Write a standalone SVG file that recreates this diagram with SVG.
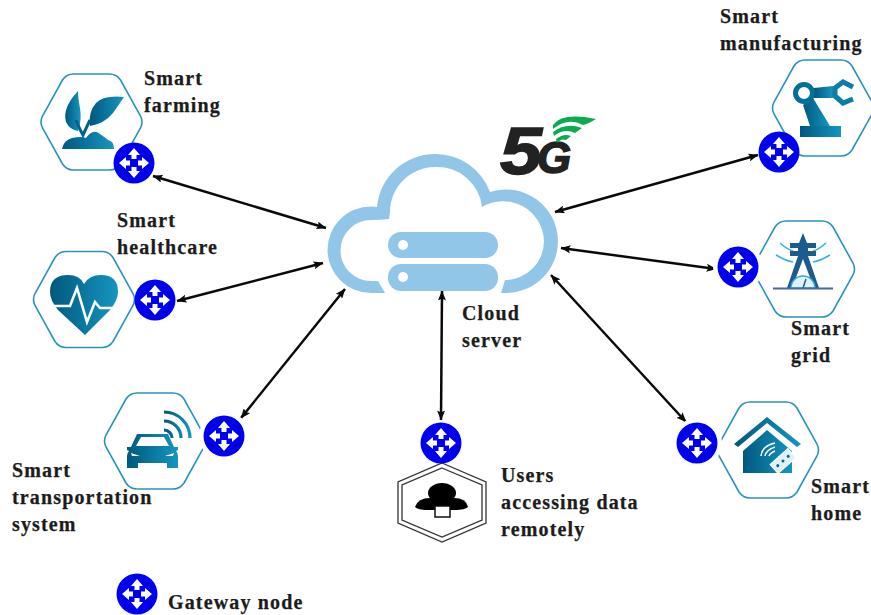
<svg xmlns="http://www.w3.org/2000/svg" xmlns:xlink="http://www.w3.org/1999/xlink" width="871" height="615" viewBox="0 0 871 615">
<style>
text{font-family:"Liberation Serif","Times New Roman",serif;font-weight:700;font-size:20px;letter-spacing:1.15px;fill:#1c1c1c;stroke:#1c1c1c;stroke-width:.25px}
.hex{fill:#fff;stroke:#2b93bb;stroke-width:1.6}
.link{stroke:#0a0a0a;stroke-width:2.5;fill:none;marker-start:url(#ah);marker-end:url(#ah)}
.ic{fill:url(#g)}
.wave{fill:none;stroke:url(#g);stroke-width:3.2}
.cloud{fill:#92c6e9}
.logo{font-family:"Liberation Sans",Arial,sans-serif;font-style:italic;letter-spacing:0;fill:#222;stroke:#222;stroke-width:1.4px}
</style>
<defs>
<linearGradient id="g" x1="0" y1="0" x2="1" y2="0"><stop offset="0" stop-color="#00587f"/><stop offset="1" stop-color="#1596bf"/></linearGradient>
<marker id="ah" viewBox="0 0 10 8" refX="9.5" refY="4" markerWidth="10" markerHeight="8" markerUnits="userSpaceOnUse" orient="auto-start-reverse"><path d="M0 0L10 4L0 8L2 4Z" fill="#0a0a0a"/></marker>
<path id="hx" class="hex" d="M-49 -6Q-52 0 -49 6L-29 42Q-25 48 -18 48H18Q25 48 29 42L49 6Q52 0 49 -6L29 -42Q25 -48 18 -48H-18Q-25 -48 -29 -42Z"/>
<g id="gw">
<circle r="20.5" fill="#0000ee"/>
<g fill="#fff">
<path d="M0 -15L6 -8H2.5V-4H-2.5V-8H-6Z"/>
<path d="M0 -15L6 -8H2.5V-4H-2.5V-8H-6Z" transform="rotate(90)"/>
<path d="M0 -15L6 -8H2.5V-4H-2.5V-8H-6Z" transform="rotate(180)"/>
<path d="M0 -15L6 -8H2.5V-4H-2.5V-8H-6Z" transform="rotate(270)"/>
</g>
</g>
</defs>
<rect width="871" height="615" fill="#fff"/>

<g id="connectors">
<path class="link" d="M153 176L326 228"/>
<path class="link" d="M177 301L323 263"/>
<path class="link" d="M241 418L345 289"/>
<path class="link" d="M441 420L442 291"/>
<path class="link" d="M686 422L551 275"/>
<path class="link" d="M716 269L561 248"/>
<path class="link" d="M758 155L555 212"/>
</g>

<g id="cloud-server">
<path class="cloud" fill-rule="evenodd" d="M385 293H371A43.5 43.5 0 0 1 327.5 250A43.5 43.5 0 0 1 371 206.500L377 207A58 58 0 0 1 435 154A58 58 0 0 1 490 192A52 52 0 0 1 558 241A52 52 0 0 1 506 293H501L505 280A39 39 0 0 0 544 241A41 41 0 0 0 482 207A45 45 0 0 0 435 167A45 45 0 0 0 390 212L389 219Q380 220 371 220A30.500 30.500 0 0 0 340.500 250.500A30.500 30.500 0 0 0 371 281H378Z"/>
<rect class="cloud" x="388" y="232" width="110" height="26" rx="13"/>
<rect class="cloud" x="388" y="264" width="110" height="27" rx="13"/>
<circle cx="403" cy="245" r="5" fill="#fff"/>
<circle cx="403" cy="277" r="5" fill="#fff"/>
<text x="462" y="320">Cloud</text>
<text x="462" y="347">server</text>
</g>

<g id="logo-5g">
<text class="logo" x="500" y="174" font-size="66" style="font-size:66px" textLength="42" lengthAdjust="spacingAndGlyphs">5</text>
<text class="logo" x="537" y="173" style="font-size:44px">G</text>
<path fill="#0dab4f" d="M553 125Q562 112 596 119Q588 124 583 125Q568 117 553 129ZM553 132Q566 122 582 128L575 133Q564 128 554 136ZM556 139Q564 133 571 136L566 140Q561 138 557 143Z"/>
</g>

<g id="node-farming">
<use xlink:href="#hx" href="#hx" x="91.500" y="122"/>
<path class="ic" d="M62 149Q64 140 72 138Q82 136 86 138Q93 128 100 134Q106 138 108 140Q114 141 114 149Z"/>
<path class="ic" d="M78 91Q62 108 66 122Q70 130 78 131Q82 120 80 108Q78 98 78 91Z"/>
<path class="ic" d="M124 97Q104 95 96 103Q88 112 90 126Q104 124 113 113Q120 103 124 97Z"/>
<path fill="none" stroke="#00638c" stroke-width="3" d="M76 120Q80 130 83 135L90 120"/>
<text x="144" y="85">Smart</text>
<text x="144" y="112">farming</text>
<use xlink:href="#gw" href="#gw" x="134" y="163"/>
</g>

<g id="node-healthcare">
<use xlink:href="#hx" href="#hx" x="84" y="299.500"/>
<path class="ic" d="M85 335L58 310Q50 300 50 292Q50 275 68 275Q80 275 84 284Q89 275 101 275Q118 275 118 292Q118 300 110 310Z"/>
<path fill="none" stroke="#fff" stroke-width="2.600" d="M50 306H70L77 288L87 322L95 302L100 308H118"/>
<text x="117" y="227">Smart</text>
<text x="117" y="254">healthcare</text>
<use xlink:href="#gw" href="#gw" x="155" y="300"/>
</g>

<g id="node-transportation">
<use xlink:href="#hx" href="#hx" x="155" y="441"/>
<path class="ic" d="M137 434H168L174 447H178V450L176 451Q178 453 178 456V468H167V463H138V468H127V456Q127 453 129 451L127 450V447H131Z"/>
<path fill="#fff" d="M141 437H164L169 446H136ZM131 453L140 456H132ZM174 453L165 456H173Z"/>
<path class="wave" d="M164 430A8 8 0 0 1 172 438M164 421A17 17 0 0 1 181 438M164 412A26 26 0 0 1 190 438"/>
<text x="12" y="477">Smart</text>
<text x="12" y="504">transportation</text>
<text x="12" y="531">system</text>
<circle cx="224" cy="436" r="25" fill="#fff"/>
<use xlink:href="#gw" href="#gw" x="224" y="436"/>
</g>

<g id="node-manufacturing">
<use xlink:href="#hx" href="#hx" x="823" y="108"/>
<path class="ic" d="M800 126H841V137H800Z"/>
<path class="ic" d="M803 105L813 98L830 126H810Z"/>
<path class="ic" d="M814 88L833 86V98H814Z"/>
<circle cx="804" cy="93" r="8.500" fill="#fff" stroke="#00709b" stroke-width="5"/>
<path fill="none" stroke="#0a7ea8" stroke-width="5" d="M853 87L843 82L835 88V96L843 103L853 99"/>
<text x="720" y="23">Smart</text>
<text x="720" y="50">manufacturing</text>
<use xlink:href="#gw" href="#gw" x="779" y="152"/>
</g>

<g id="node-grid">
<use xlink:href="#hx" href="#hx" x="804" y="269"/>
<path fill="none" stroke="#35b0dc" stroke-width="1.600" d="M780 243Q788 250 793 251M826 243Q818 250 813 251M776 255Q786 261 793 262M830 255Q820 261 813 262"/>
<path fill="#1d5a8e" d="M803 233L807 243H816V248L808 248V251H816V256L808 256L819 288H814L803 259L792 288H787L798 256L790 256V251H798V248L790 248V243H799Z"/>
<path fill="#dff2fb" stroke="#35a7d4" stroke-width="1.500" d="M791 288A12 12 0 0 1 815 288Z"/>
<path stroke="#1d5a8e" stroke-width="1.500" d="M803 288L806 279"/>
<path stroke="#46689b" stroke-width="2" d="M773 288.500H833"/>
<text x="791" y="335">Smart</text>
<text x="791" y="362">grid</text>
<circle cx="738" cy="267" r="25" fill="#fff"/>
<use xlink:href="#gw" href="#gw" x="738" y="267"/>
</g>

<g id="node-home">
<use xlink:href="#hx" href="#hx" x="768" y="450"/>
<path class="ic" d="M767 417L801 444L797 447L767 423L738 447L734 444Z"/>
<path class="ic" d="M767 430L792 451V473H743V451Z"/>
<g transform="translate(783 461) rotate(-42)">
<rect x="-12" y="-6" width="24" height="12" fill="#dff0f6" stroke="#fff" stroke-width="1"/>
<circle cx="-7" r="1.500" fill="#00638c"/><circle r="1.500" fill="#00638c"/><circle cx="7" r="1.500" fill="#00638c"/>
</g>
<path fill="none" stroke="#fff" stroke-width="1.600" d="M761 456Q762 446 775 443M765 456Q766 450 775 447M769 456Q770 453 775 451"/>
<text x="811" y="493">Smart</text>
<text x="811" y="520">home</text>
<circle cx="697" cy="443" r="25" fill="#fff"/>
<use xlink:href="#gw" href="#gw" x="697" y="443"/>
</g>

<g id="node-users">
<path fill="none" stroke="#333" stroke-width="1.300" d="M442 463L486 482V523L442 542L398 523V482Z"/>
<path fill="none" stroke="#333" stroke-width="1.300" d="M442 468L482 485V520L442 537L402 520V485Z"/>
<ellipse cx="442" cy="493" rx="14" ry="10" fill="#000"/>
<path fill="#000" d="M415 507Q418 498 430 498H454Q466 498 468 507Q466 510 452 510H430Q417 510 415 507Z"/>
<rect x="435" y="506" width="15" height="11" fill="#fff" stroke="#111" stroke-width="1.500"/>
<text x="501" y="482">Users</text>
<text x="501" y="509">accessing data</text>
<text x="501" y="536">remotely</text>
<use xlink:href="#gw" href="#gw" x="441" y="443"/>
</g>

<g id="legend-gateway">
<use xlink:href="#gw" href="#gw" x="137" y="594"/>
<text x="168" y="609">Gateway node</text>
</g>
</svg>
